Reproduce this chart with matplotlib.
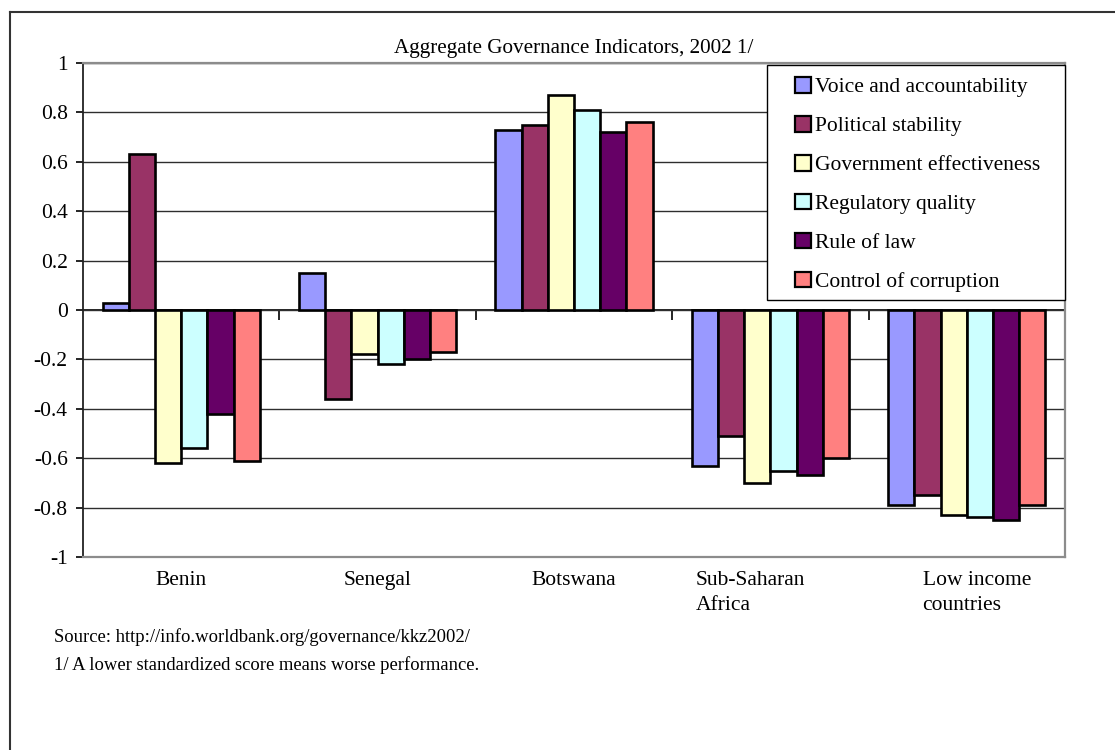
import numpy as np
import matplotlib.pyplot as plt
import matplotlib.transforms as mtransforms
from matplotlib.patches import Rectangle
from matplotlib.lines import Line2D

plt.rcParams['font.family'] = ['Liberation Serif', 'DejaVu Serif']

# Governance scores, 2002
countries = ["Benin", "Senegal", "Botswana", "Sub-Saharan\nAfrica", "Low income\ncountries"]
indicators = ["Voice and accountability", "Political stability", "Government effectiveness",
              "Regulatory quality", "Rule of law", "Control of corruption"]
voice = [0.03, 0.15, 0.73, -0.63, -0.79]
stability = [0.63, -0.36, 0.75, -0.51, -0.75]
effectiveness = [-0.62, -0.18, 0.87, -0.70, -0.83]
regulatory = [-0.56, -0.22, 0.81, -0.65, -0.84]
rule_of_law = [-0.42, -0.20, 0.72, -0.67, -0.85]
corruption = [-0.61, -0.17, 0.76, -0.60, -0.79]
yticks = [-1, -0.8, -0.6, -0.4, -0.2, 0, 0.2, 0.4, 0.6, 0.8, 1]
ytick_labels = ["-1", "-0.8", "-0.6", "-0.4", "-0.2", "0", "0.2", "0.4", "0.6", "0.8", "1"]

series = [voice, stability, effectiveness, regulatory, rule_of_law, corruption]
colors = ["#9999FF", "#993366", "#FFFFCC", "#CCFFFF", "#660066", "#FF8080"]

W, H = 1115, 750
fig = plt.figure(figsize=(W / 100, H / 100), dpi=100)
ax = fig.add_axes([83 / W, 1 - 557 / H, (1065 - 83) / W, (557 - 63) / H])

fs = 15.5
x = np.arange(len(countries))
w = 0.8 / len(series)
for i, (vals, c) in enumerate(zip(series, colors)):
    ax.bar(x + (i - 2.5) * w, vals, width=w, color=c, edgecolor="black",
           linewidth=1.9, label=indicators[i], zorder=3)

ax.set_xlim(-0.5, len(countries) - 0.5)
ax.set_ylim(-1, 1)
ax.set_yticks(yticks)
ax.set_yticklabels(ytick_labels, fontsize=fs)
ax.tick_params(axis="y", direction="out", length=5, width=1.2, pad=6)
ax.yaxis.grid(True, color="#2e2e2e", linewidth=1.0, zorder=0)
ax.set_axisbelow(True)

ax.set_xticks(x)
ax.set_xticklabels(countries, fontsize=fs, multialignment="left", va="top")
ax.tick_params(axis="x", length=0, pad=10)
shifts = [0, 0, 0, -20, 10]
for lab, dx in zip(ax.get_xticklabels(), shifts):
    lab.set_linespacing(1.45)
    lab.set_transform(lab.get_transform() +
                      mtransforms.ScaledTranslation(dx / 100, 0, fig.dpi_scale_trans))

for s in ["top", "right", "bottom"]:
    ax.spines[s].set_color("#8c8c8c")
    ax.spines[s].set_linewidth(1.6)
ax.spines["left"].set_color("#222222")
ax.spines["left"].set_linewidth(1.3)

# category axis crossing at zero, with ticks between groups
zero_ax = ax.secondary_xaxis(0.5)
zero_ax.set_alignment("bottom")
zero_ax.set_xticks(x[:-1] + 0.5)
zero_ax.set_xticklabels([])
zero_ax.tick_params(direction="out", length=7, width=1.2, color="black")
for s in zero_ax.spines.values():
    s.set_color("black")
    s.set_linewidth(1.2)

ax.set_title("Aggregate Governance Indicators, 2002 1/", fontsize=15.2, pad=7)

# legend box
fig.patches.append(Rectangle((767 / W, 1 - 300 / H), (1065 - 767) / W, (300 - 65) / H,
                             transform=fig.transFigure, facecolor="white",
                             edgecolor="black", linewidth=1.0, zorder=5))
leg = fig.legend(loc="upper left", bbox_to_anchor=(795 / W, 1 - 77 / H), frameon=False,
                 fontsize=fs, handlelength=0.75, handleheight=0.75, handletextpad=0.2,
                 labelspacing=0.86, borderpad=0, borderaxespad=0)
leg.set_zorder(6)
for h in leg.legend_handles:
    h.set_linewidth(1.6)

fig.text(54 / W, 1 - 637 / H, "Source: http://info.worldbank.org/governance/kkz2002/",
         fontsize=13.4, va="center", ha="left")
fig.text(54 / W, 1 - 665 / H, "1/ A lower standardized score means worse performance.",
         fontsize=13.4, va="center", ha="left")

# outer frame
fig.add_artist(Line2D([10 / W, 1], [1 - 12 / H, 1 - 12 / H], color="#333333", linewidth=1.5))
fig.add_artist(Line2D([10 / W, 10 / W], [0, 1 - 12 / H], color="#333333", linewidth=1.5))

fig.savefig("out.png", dpi=100)
